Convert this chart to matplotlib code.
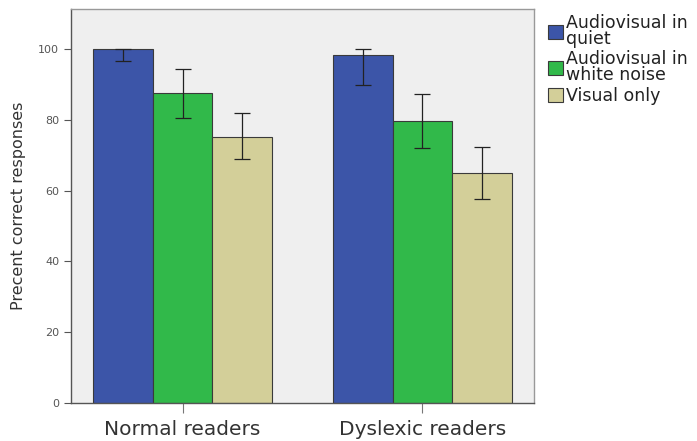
import matplotlib.pyplot as plt
import numpy as np

groups = ['Normal readers', 'Dyslexic readers']
conditions = ['Audiovisual in\nquiet', 'Audiovisual in\nwhite noise', 'Visual only']
colors = ['#3c55a8', '#31b94a', '#d3cf99']

# mean, lower end of error bar, upper end of error bar
means = [[100.0, 98.3],
         [87.5, 79.7],
         [75.2, 64.9]]
err_lo = [[96.7, 89.8],
          [80.6, 72.1],
          [68.8, 57.5]]
err_hi = [[100.0, 100.0],
          [94.4, 87.2],
          [81.8, 72.4]]

fig = plt.figure(figsize=(6.97, 4.41), dpi=100)
ax = fig.add_axes([0.102, 0.086, 0.664, 0.894])
ax.set_facecolor('#efefef')

x = np.arange(len(groups))
w = 0.248
for i in range(len(conditions)):
    pos = x + (i - 1) * w
    m = np.array(means[i])
    yerr = [m - np.array(err_lo[i]), np.array(err_hi[i]) - m]
    ax.bar(pos, m, w, color=colors[i], edgecolor='#3a3a3a', linewidth=0.8,
           label=conditions[i], zorder=2)
    ax.errorbar(pos, m, yerr=yerr, fmt='none', ecolor='#222222', elinewidth=0.9,
                capsize=6, capthick=0.9, zorder=3)

ax.set_xlim(-0.465, 1.465)
ax.set_ylim(0, 111.3)
ax.set_yticks([0, 20, 40, 60, 80, 100])
ax.set_xticks(x)
ax.set_xticklabels(groups, fontsize=14.5, color='#333333')
ax.tick_params(axis='y', labelsize=8, colors='#555555', length=5, direction='out')
ax.tick_params(axis='x', length=7, color='#777777', pad=5)
ax.set_ylabel('Precent correct responses', fontsize=11.5, color='#333333', labelpad=9)

for s in ['left', 'bottom']:
    ax.spines[s].set_color('#555555')
    ax.spines[s].set_linewidth(1.0)
for s in ['top', 'right']:
    ax.spines[s].set_color('#999999')
    ax.spines[s].set_linewidth(1.0)

leg = ax.legend(loc='upper left', bbox_to_anchor=(1.015, 1.005), frameon=False,
                fontsize=12.5, handlelength=0.9, handleheight=0.9, handletextpad=0.15,
                labelspacing=0.15, borderaxespad=0.0, labelcolor='#222222')
for t in leg.get_texts():
    t.set_linespacing(0.85)

fig.savefig('out.png', dpi=100)
